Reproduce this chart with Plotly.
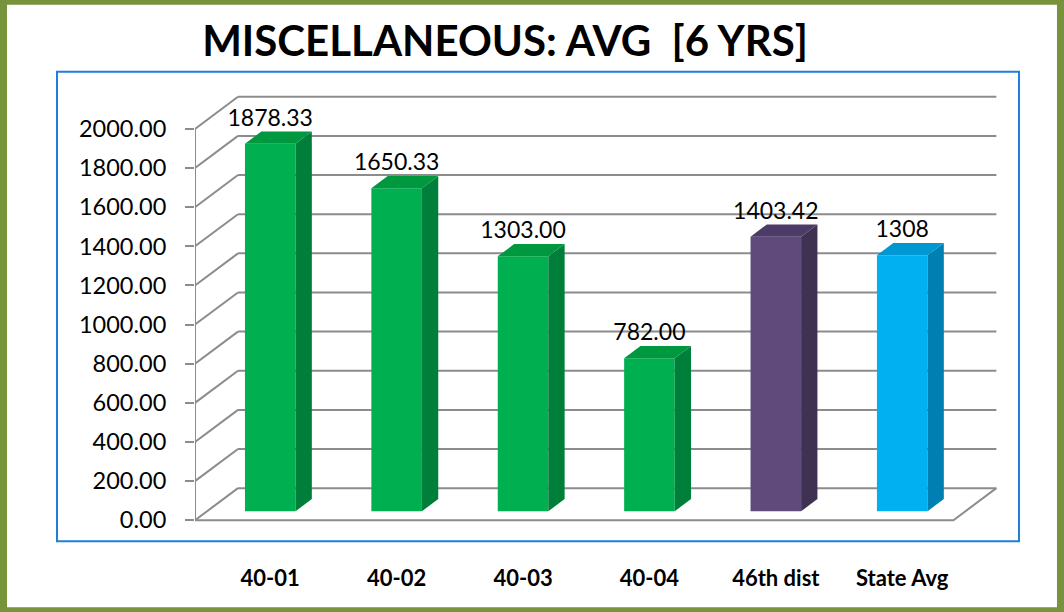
"""Excel-style 3D column chart: miscellaneous average over 6 years."""

import plotly.graph_objects as go

categories = ["40-01", "40-02", "40-03", "40-04", "46th dist", "State Avg"]
averages = [1878.33, 1650.33, 1303.00, 782.00, 1403.42, 1308]
value_labels = ["1878.33", "1650.33", "1303.00", "782.00", "1403.42", "1308"]
y_ticks = [0, 200, 400, 600, 800, 1000, 1200, 1400, 1600, 1800, 2000]

# face colours per bar: front, side, top
front_colors = ["#00B050", "#00B050", "#00B050", "#00B050", "#604A7B", "#00B0F0"]
side_colors = ["#007F3A", "#007F3A", "#007F3A", "#007F3A", "#3F3151", "#0080B2"]
top_colors = ["#00983F", "#00983F", "#00983F", "#00983F", "#4C3B66", "#0098D2"]

W, H = 1064, 612
FONT = "Lato, 'Open Sans', Arial, sans-serif"
GRID = "#8C8C8C"

# oblique projection of the 3D box (x in category slots, y in value units)
X_SCALE = 126.4        # px per category slot
Y_SCALE = 0.1955       # px per value unit
ORIGIN_X, ORIGIN_Y = 195, 520   # front floor corner, px
DEPTH_X = 0.34
DEPTH_Y = 164
BAR_WIDTH = 0.4
BAR_FRONT, BAR_BACK = 0.28, 0.66

n = len(categories)
x_max = n + DEPTH_X + 0.1
y_min, y_max = -60, max(y_ticks) + DEPTH_Y + 50
plot_w = x_max * X_SCALE
plot_h = (y_max - y_min) * Y_SCALE
top_px = ORIGIN_Y - y_max * Y_SCALE
bottom_px = ORIGIN_Y - y_min * Y_SCALE
margin = dict(l=ORIGIN_X, r=W - ORIGIN_X - plot_w, t=top_px, b=H - bottom_px)


def paper_x(px):
    return (px - ORIGIN_X) / plot_w


def paper_y(py):
    return (bottom_px - py) / plot_h


base = BAR_FRONT * DEPTH_Y
ddx = (BAR_BACK - BAR_FRONT) * DEPTH_X
ddy = (BAR_BACK - BAR_FRONT) * DEPTH_Y
centers = [i + 0.5 + BAR_FRONT * DEPTH_X for i in range(n)]

fig = go.Figure()

# front faces
fig.add_trace(go.Bar(
    x=centers, y=averages, base=base, width=BAR_WIDTH,
    marker=dict(color=front_colors, line=dict(width=0)),
    hoverinfo="skip",
))

# side and top faces
for cx, val, side, top in zip(centers, averages, side_colors, top_colors):
    xl, xr = cx - BAR_WIDTH / 2, cx + BAR_WIDTH / 2
    yt = base + val
    fig.add_trace(go.Scatter(
        x=[xr, xr + ddx, xr + ddx, xr, xr],
        y=[base, base + ddy, yt + ddy, yt, base],
        mode="lines", fill="toself", fillcolor=side,
        line=dict(width=0, color=side), hoverinfo="skip",
    ))
    fig.add_trace(go.Scatter(
        x=[xl, xr, xr + ddx, xl + ddx, xl],
        y=[yt, yt, yt + ddy, yt + ddy, yt],
        mode="lines", fill="toself", fillcolor=top,
        line=dict(width=0, color=top), hoverinfo="skip",
    ))

# axis line, left wall diagonals and floor edges
edge_x, edge_y = [0, 0, None], [0, max(y_ticks), None]
for v in y_ticks:
    edge_x += [0, DEPTH_X, None]
    edge_y += [v, v + DEPTH_Y, None]
edge_x += [0, n, n + DEPTH_X]
edge_y += [0, 0, DEPTH_Y]
fig.add_trace(go.Scatter(
    x=edge_x, y=edge_y, mode="lines", cliponaxis=False,
    line=dict(color=GRID, width=2), hoverinfo="skip",
))

# value labels
fig.add_trace(go.Scatter(
    x=centers, y=[base + v + ddy for v in averages],
    text=value_labels, mode="text", textposition="top center",
    textfont=dict(family=FONT, size=23, color="#000000"),
    cliponaxis=False, hoverinfo="skip",
))

shapes = [
    # white card inside the olive frame
    dict(type="rect", xref="paper", yref="paper", layer="below",
         x0=paper_x(7), x1=paper_x(1057), y0=paper_y(607), y1=paper_y(5),
         fillcolor="#FFFFFF", line=dict(width=0)),
    # blue plot-area box
    dict(type="rect", xref="paper", yref="paper", layer="below",
         x0=paper_x(57), x1=paper_x(1019), y0=paper_y(541), y1=paper_y(72),
         line=dict(color="#1F7FD8", width=2)),
]
# back wall gridlines
for v in y_ticks:
    shapes.append(dict(
        type="line", xref="x", yref="y", layer="below",
        x0=DEPTH_X, x1=n + DEPTH_X, y0=v + DEPTH_Y, y1=v + DEPTH_Y,
        line=dict(color=GRID, width=2),
    ))

fig.update_layout(
    width=W, height=H,
    margin=margin,
    paper_bgcolor="#77933C",
    plot_bgcolor="rgba(0,0,0,0)",
    showlegend=False,
    shapes=shapes,
    font=dict(family=FONT, color="#000000"),
    title=dict(
        text="<b>MISCELLANEOUS: AVG\u00a0\u00a0[6 YRS]</b>",
        x=505 / W, y=1 - 41 / H, xanchor="center", yanchor="middle",
        font=dict(family=FONT, size=42, color="#000000"),
    ),
)
fig.update_xaxes(
    range=[0, x_max], showgrid=False, zeroline=False, showline=False,
    tickvals=centers, ticktext=[f"<b>{c}</b>" for c in categories],
    ticks="outside", ticklen=27, tickcolor="rgba(0,0,0,0)",
    tickfont=dict(family=FONT, size=22, color="#000000"),
)
fig.update_yaxes(
    range=[y_min, y_max], showgrid=False, zeroline=False, showline=False,
    tickvals=y_ticks, tickformat=".2f",
    ticks="outside", ticklen=9, tickwidth=2, tickcolor=GRID,
    ticklabelstandoff=14,
    tickfont=dict(family=FONT, size=23.5, color="#000000"),
)

# the page is photographed at the window origin, so drop the body margin
fig.write_html(
    "out.html",
    config={"displayModeBar": False},
    post_script="document.body.style.margin='0';",
)
